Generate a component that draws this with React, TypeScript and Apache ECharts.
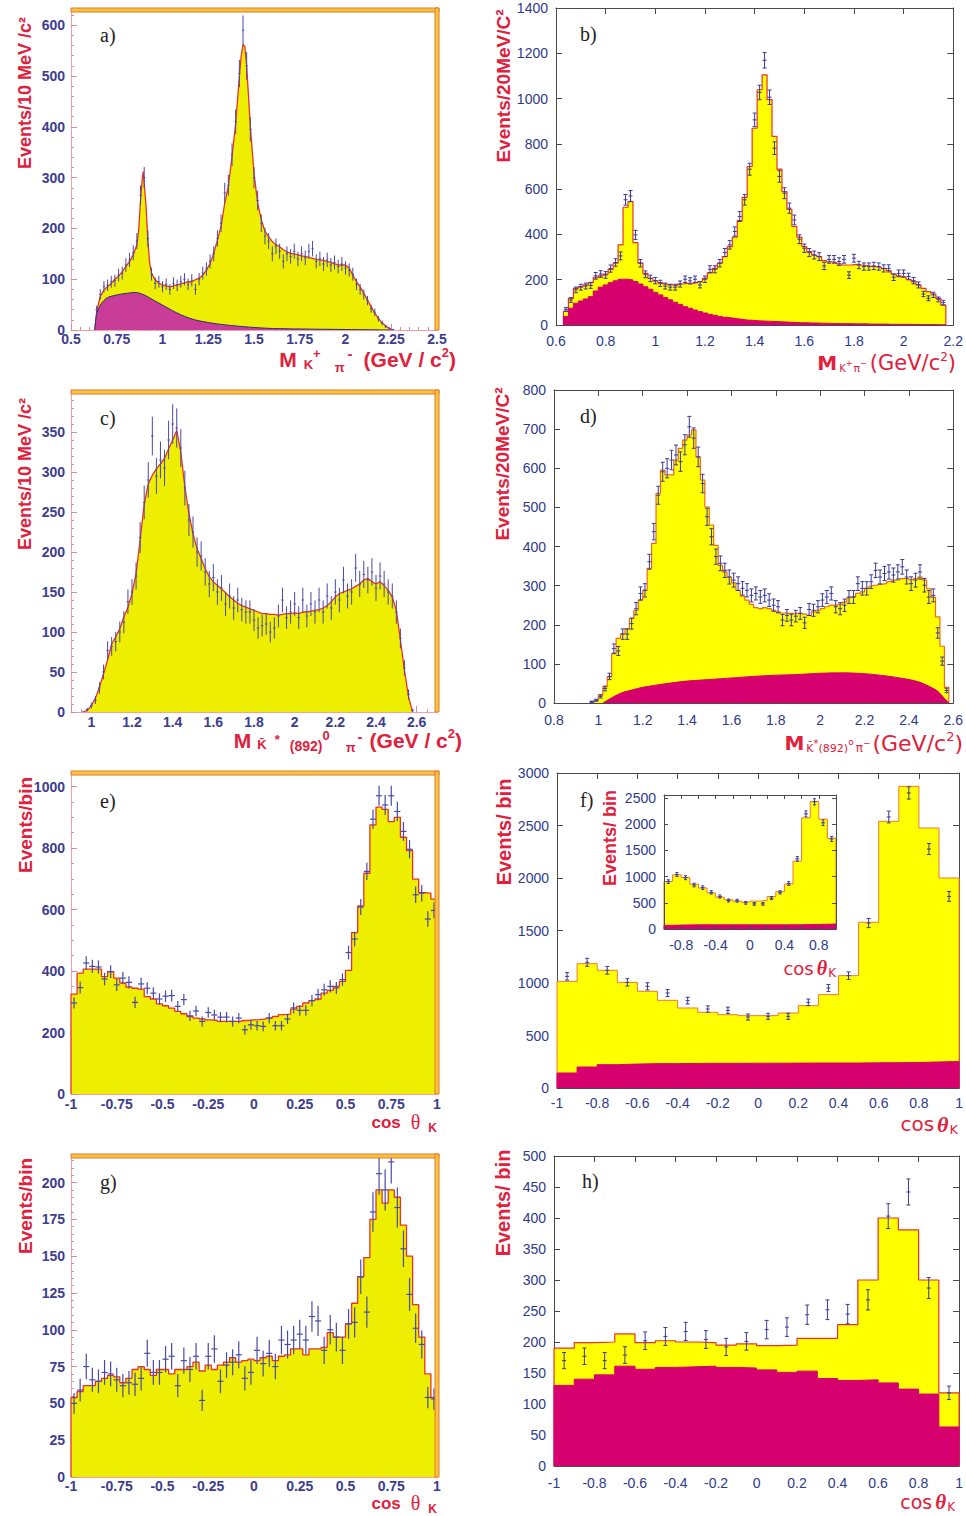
import React, { useEffect, useRef } from 'react';
import * as echarts from 'echarts';

// ================= DATA =================
// a) M(K+ pi-) : fit curve (GeV, events / 10 MeV)
const aFitMass = [0.63,0.64,0.66,0.68,0.70,0.72,0.74,0.76,0.78,0.80,0.82,0.84,0.86,0.87,0.88,0.89,0.895,0.90,0.91,0.92,0.93,0.94,0.96,0.98,1.00,1.02,1.04,1.06,1.08,1.10,1.12,1.14,1.16,1.18,1.20,1.22,1.24,1.26,1.28,1.30,1.32,1.34,1.36,1.38,1.40,1.42,1.43,1.44,1.45,1.46,1.48,1.50,1.52,1.54,1.56,1.58,1.60,1.62,1.64,1.66,1.68,1.70,1.72,1.74,1.76,1.78,1.80,1.82,1.84,1.86,1.88,1.90,1.92,1.94,1.96,1.98,2.00,2.02,2.04,2.06,2.08,2.10,2.12,2.14,2.16,2.18,2.20,2.22,2.24,2.26];
const aFitEvents = [0,36,66,79,85,92,100,106,115,125,135,148,168,197,256,300,312,290,243,177,131,112,99,92,89,87,85,87,89,91,93,95,95,99,102,108,118,131,151,177,204,250,283,342,407,499,539,562,558,519,401,309,250,217,194,184,174,168,164,158,154,151,150,148,146,145,143,141,139,138,137,135,133,130,128,128,128,122,108,95,85,72,59,46,33,23,14,8,3,0];
const aBkgMass = [0.63,0.64,0.66,0.68,0.70,0.75,0.80,0.85,0.90,0.95,1.00,1.05,1.10,1.15,1.20,1.30,1.40,1.50,1.60,1.75,2.00,2.25];
const aBkgEvents = [0,30,49,58,64,69,72,74,69,59,49,39,30,23,18,12,8,5,3,2,1,0];
const aDataStart = 0.64;
const aDataStep = 0.02;
const aData = [40,70,85,88,95,97,108,112,128,138,152,175,265,300,180,110,92,95,85,90,80,92,88,95,100,90,98,80,100,112,120,135,150,180,210,270,285,345,410,505,590,520,395,300,255,210,185,175,150,165,155,135,150,145,155,140,150,142,155,160,135,140,130,138,128,133,125,130,122,118,110,90,80,70,58,42,35,22,14,7,3,1];

// b) M(K+ pi-) : 20 MeV bins
const bBinStart = 0.63;
const bBinWidth = 0.02;
const bFit = [60,118,162,170,177,187,209,217,225,246,273,354,520,545,364,273,228,206,195,187,181,177,174,181,184,184,187,192,206,231,250,273,302,346,388,461,564,700,869,1039,1105,995,833,688,589,511,435,388,346,324,309,302,284,279,276,270,265,265,268,265,262,259,258,255,249,240,225,217,211,202,192,177,162,147,137,118,88];
const bBkg = [37,74,96,106,115,125,150,167,177,187,195,202,202,199,192,181,169,158,144,133,121,111,100,91,81,74,66,59,53,47,43,38,34,31,28,25,22,21,19,18,17,16,15,14,13,12,11,10,10,9,9,8,8,7,7,6,6,6,5,5,5,4,4,4,4,3,3,3,3,3,2,2,2,2,2,1,1];
const bData = [69,110,155,167,172,175,217,225,221,249,276,305,553,570,398,273,224,206,196,184,172,167,167,181,202,195,202,177,202,246,246,273,320,354,413,479,553,688,906,1027,1169,1006,781,656,582,516,464,379,339,320,309,302,261,290,290,280,290,220,295,265,258,258,261,258,250,250,211,228,228,214,196,177,137,118,133,113,99];

// c) M(Kbar*(892)0 pi-) : 10 MeV bins, sampled every 20 MeV
const cMassStart = 0.96;
const cMassStep = 0.02;
const cFit = [0,2,8,17,31,48,65,85,94,104,119,131,148,173,215,260,285,296,304,310,317,329,340,352,325,281,248,223,204,192,179,169,163,158,154,149,144,140,136,133,131,129,127,125,123,123,122,122,121,122,123,123,124,123,125,125,126,127,128,130,133,138,144,148,150,152,154,157,160,165,167,163,160,163,158,152,144,127,90,52,19,0];
const cData = [0,3,8,15,30,50,77,82,88,100,112,138,150,170,218,262,290,345,295,315,305,340,360,355,330,280,240,225,200,195,175,160,168,150,155,135,145,130,140,128,125,125,115,105,108,110,100,105,120,140,118,125,135,118,140,120,135,125,140,125,145,130,150,140,165,145,150,180,160,172,165,175,155,170,160,150,145,125,92,55,22,2];

// d) M(Kbar*(892)0 pi-) : 20 MeV bins
const dBinStart = 0.98;
const dBinWidth = 0.02;
const dFit = [7,20,41,67,126,165,177,190,216,237,263,288,344,408,536,595,583,583,621,651,672,685,698,629,570,501,455,403,352,335,322,307,288,273,263,252,244,241,244,241,237,233,230,229,229,229,229,227,224,233,237,241,246,250,250,252,258,269,271,280,284,293,299,301,304,305,310,314,315,318,318,315,318,322,314,292,270,220,145,40];
const dBkgMass = [1.02,1.05,1.10,1.15,1.20,1.30,1.40,1.50,1.60,1.70,1.80,1.90,2.00,2.10,2.20,2.30,2.40,2.45,2.50,2.53,2.56,2.58];
const dBkgEvents = [0,10,25,33,40,49,56,60,64,68,71,73,76,77,75,69,60,53,40,30,12,0];
const dDataStart = 0.97;
const dData = [3,7,17,37,68,139,133,176,176,203,241,280,288,361,438,531,591,600,621,634,617,660,706,677,629,561,476,425,374,357,339,322,314,305,293,288,275,280,271,275,263,250,246,212,224,212,222,229,205,239,237,246,263,271,280,246,241,250,271,271,305,293,293,310,339,322,331,335,327,335,348,322,305,314,335,301,271,275,179,107,32];

// e) cos theta_K, 60 bins
const eFit = [325,393,406,406,406,382,398,377,361,348,344,341,317,309,293,287,279,269,261,252,247,244,241,239,236,236,236,236,239,241,242,244,247,252,258,260,276,285,296,304,309,328,337,350,366,402,525,612,718,875,933,926,886,900,835,792,699,655,653,634];
const eData = [296,346,426,415,413,374,398,355,377,363,298,358,344,328,309,318,320,285,307,254,270,236,265,257,250,250,236,247,209,225,222,220,247,222,222,244,280,272,272,304,323,339,350,345,372,460,504,608,724,894,970,940,970,919,854,796,648,653,569,597];

// f) cos theta_K, 20 bins (main) and inset
const fFit = [1016,1184,1121,1006,921,835,762,721,698,689,689,714,784,889,1070,1578,2540,2873,2476,2000];
const fBkg = [143,200,222,228,232,232,234,235,235,236,236,237,238,238,238,240,241,243,248,252];
const fData = [1063,1197,1121,1006,968,905,832,752,740,676,683,683,816,952,1070,1571,2581,2810,2276,1825];
const fInsetFit = [908,1034,984,858,783,689,608,558,533,514,533,545,620,714,858,1297,2124,2437,2099,1736];
const fInsetBkg = [70,75,78,80,80,80,80,80,80,80,80,80,80,80,80,82,85,88,90,95];
const fInsetData = [905,1040,980,840,790,700,620,545,540,500,480,480,590,700,870,1340,2200,2430,2030,1720];

// g) cos theta_K, 60 bins
const gFit = [54,58,62,62,65,67,69,68,64,67,73,75,73,69,73,73,70,73,73,75,78,72,76,73,76,78,81,78,79,80,79,81,82,79,82,83,87,87,83,87,87,88,98,95,95,104,118,136,149,175,195,186,195,190,171,150,117,95,70,54];
const gData = [50,59,75,66,65,71,70,66,62,64,63,67,84,71,71,80,82,62,79,73,82,52,82,87,65,76,78,83,67,71,86,77,84,75,93,90,93,97,93,109,106,86,100,95,86,104,105,136,112,180,206,195,214,183,155,124,101,90,54,53];

// h) cos theta_K, 20 bins
const hFit = [190,199,200,213,199,202,200,199,195,197,194,195,206,206,228,300,400,381,300,118];
const hBkg = [130,140,147,161,156,159,160,161,159,158,155,151,153,141,138,139,134,124,116,63];
const hData = [170,177,170,179,202,209,217,204,192,201,220,224,244,252,245,268,403,442,287,118];

// axis ranges [min, max, interval]
const aXRange: [number, number, number] = [0.5, 2.5, 0.25];
const aYRange: [number, number, number] = [0, 630, 100];
const bXRange: [number, number, number] = [0.6, 2.2, 0.2];
const bYRange: [number, number, number] = [0, 1400, 200];
const cXRange: [number, number, number] = [0.9, 2.7, 0.1];
const cYRange: [number, number, number] = [0, 400, 50];
const dXRange: [number, number, number] = [0.8, 2.6, 0.2];
const dYRange: [number, number, number] = [0, 800, 100];
const eXRange: [number, number, number] = [-1, 1, 0.25];
const eYRange: [number, number, number] = [0, 1044, 200];
const fXRange: [number, number, number] = [-1, 1, 0.2];
const fYRange: [number, number, number] = [0, 3000, 500];
const fInsetYRange: [number, number, number] = [0, 2560, 500];
const gXRange: [number, number, number] = [-1, 1, 0.25];
const gYRange: [number, number, number] = [0, 218, 25];
const hXRange: [number, number, number] = [-1, 1, 0.2];
const hYRange: [number, number, number] = [0, 500, 50];

// ================= STYLE =================
const FONT_SANS = '"Liberation Sans", Arial, Helvetica, sans-serif';
const FONT_WIDE = '"DejaVu Sans", Verdana, sans-serif';
const FONT_SERIF = '"Liberation Serif", "Times New Roman", serif';
const RED = '#e0203c';
const NAVY = '#3d3d8f';
const BLUE_PAW = '#2e3a8c';
const YELLOW_ROOT = '#eeee00';
const YELLOW_PAW = '#ffff00';
const MAG_ROOT = '#c93d98';
const MAG_PAW = '#d6006f';
const LINE_RED = '#e8322a';
const ERR_ROOT = '#4a4aa6';
const ERR_PAW = '#3a3a98';

type Range = [number, number, number];
type Piece = { t: string; s: number; b?: boolean; i?: boolean; f?: string; dy?: number; g?: number };

const fmtNum = (v: number) => String(+v.toFixed(2));

function buildOption() {
  const ctx = document.createElement('canvas').getContext('2d') as CanvasRenderingContext2D;
  const grid: any[] = [];
  const xAxis: any[] = [];
  const yAxis: any[] = [];
  const series: any[] = [];
  const elements: any[] = [];

  const addPanel = (
    kind: 'root' | 'paw',
    rect: number[],
    xr: Range,
    yr: Range,
    o: { xFmt?: (v: number) => string; fs?: number; xMinor?: number; yMinor?: number; xMargin?: number; yMargin?: number; showMaxY?: boolean; tickLen?: number; z?: number } = {}
  ) => {
    const [L, T, W, H] = rect;
    const gi = grid.length;
    grid.push({ left: L, top: T, width: W, height: H });
    const root = kind === 'root';
    const fs = o.fs ?? 14;
    const z = o.z ?? 0;
    const label: any = root
      ? { color: NAVY, fontWeight: 'bold', fontSize: fs, fontFamily: FONT_SANS }
      : { color: BLUE_PAW, fontSize: fs, fontFamily: FONT_SANS };
    const axisCol = root ? '#f0a0a8' : '#4a4a4a';
    const tickCol = root ? '#d88c9c' : '#4a4a4a';
    const tl = o.tickLen ?? 6;
    const xi = xAxis.length;
    xAxis.push({
      type: 'value', gridIndex: gi, position: 'bottom', min: xr[0], max: xr[1], interval: xr[2], z,
      axisLine: { show: true, onZero: false, lineStyle: { color: axisCol, width: 1 } },
      axisTick: { show: true, inside: true, length: tl, lineStyle: { color: tickCol, width: 1 } },
      minorTick: { show: !!o.xMinor, splitNumber: o.xMinor || 5, length: 3, lineStyle: { color: tickCol } },
      splitLine: { show: false },
      axisLabel: { ...label, margin: o.xMargin ?? (root ? 4 : 9), formatter: o.xFmt ?? fmtNum, showMaxLabel: true, showMinLabel: true },
    });
    const yi = yAxis.length;
    yAxis.push({
      type: 'value', gridIndex: gi, position: 'left', min: yr[0], max: yr[1], interval: yr[2], z,
      axisLine: { show: true, onZero: false, lineStyle: { color: axisCol, width: 1 } },
      axisTick: { show: true, inside: true, length: tl, lineStyle: { color: tickCol, width: 1 } },
      minorTick: { show: !!o.yMinor, splitNumber: o.yMinor || 5, length: 3, lineStyle: { color: tickCol } },
      splitLine: { show: false },
      axisLabel: { ...label, margin: o.yMargin ?? 6, formatter: fmtNum, showMaxLabel: o.showMaxY ?? true, showMinLabel: true },
    });
    if (!root) {
      xAxis.push({
        type: 'value', gridIndex: gi, position: 'top', min: xr[0], max: xr[1], interval: xr[2], z,
        axisLine: { show: true, onZero: false, lineStyle: { color: axisCol, width: 1 } },
        axisTick: { show: true, inside: true, length: tl, lineStyle: { color: tickCol, width: 1 } },
        axisLabel: { show: false }, splitLine: { show: false },
      });
      yAxis.push({
        type: 'value', gridIndex: gi, position: 'right', min: yr[0], max: yr[1], interval: yr[2], z,
        axisLine: { show: true, onZero: false, lineStyle: { color: axisCol, width: 1 } },
        axisTick: { show: true, inside: true, length: tl, lineStyle: { color: tickCol, width: 1 } },
        axisLabel: { show: false }, splitLine: { show: false },
      });
    } else {
      const bar = { fill: '#f8c53e', stroke: '#e8762e', lineWidth: 1 };
      elements.push({ type: 'rect', z: 10, silent: true, shape: { x: L, y: T - 2, width: W + 2, height: 4 }, style: bar });
      elements.push({ type: 'rect', z: 10, silent: true, shape: { x: L + W - 2, y: T - 2, width: 4, height: H + 2 }, style: bar });
    }
    return { xi, yi };
  };

  const stepData = (start: number, width: number, vals: number[]) => {
    const pts: number[][] = [[start, 0]];
    vals.forEach((v, i) => pts.push([start + (i + 1) * width, v]));
    pts.push([start + vals.length * width, 0]);
    return pts;
  };
  const pairData = (xs: number[], ys: number[]) => xs.map((x, i) => [x, ys[i]]);

  const area = (ax: { xi: number; yi: number }, data: number[][], fill: string, stroke: string, lw: number, step: boolean, z: number, smooth = 0) => {
    series.push({
      type: 'line', xAxisIndex: ax.xi, yAxisIndex: ax.yi, data, step: step ? 'start' : false,
      smooth, symbol: 'none', showSymbol: false, silent: true, z, clip: true,
      lineStyle: { color: stroke, width: lw }, areaStyle: { color: fill, opacity: 1 },
    });
  };

  const errs = (ax: { xi: number; yi: number }, pts: number[][], color: string, capPx: number, z: number, lw = 1.1) => {
    series.push({
      type: 'custom', xAxisIndex: ax.xi, yAxisIndex: ax.yi, data: pts, z, silent: true, clip: true,
      renderItem: (_p: any, api: any) => {
        const x = api.value(0), v = api.value(1), e = api.value(2), hw = api.value(3);
        const pT = api.coord([x, v + e]);
        const pB = api.coord([x, Math.max(0, v - e)]);
        const pC = api.coord([x, v]);
        const style = { stroke: color, lineWidth: lw };
        const ch: any[] = [{ type: 'line', shape: { x1: pT[0], y1: pT[1], x2: pB[0], y2: pB[1] }, style }];
        if (hw > 0) {
          const pL = api.coord([x - hw, v]);
          const pR = api.coord([x + hw, v]);
          ch.push({ type: 'line', shape: { x1: pL[0], y1: pC[1], x2: pR[0], y2: pC[1] }, style });
        } else {
          ch.push({ type: 'line', shape: { x1: pC[0] - 2, y1: pC[1], x2: pC[0] + 2, y2: pC[1] }, style });
        }
        if (capPx > 0) {
          ch.push({ type: 'line', shape: { x1: pT[0] - capPx, y1: pT[1], x2: pT[0] + capPx, y2: pT[1] }, style });
          ch.push({ type: 'line', shape: { x1: pB[0] - capPx, y1: pB[1], x2: pB[0] + capPx, y2: pB[1] }, style });
        }
        return { type: 'group', children: ch };
      },
    });
  };

  const fontOf = (p: Piece, fam: string) => `${p.i ? 'italic ' : ''}${p.b ? 'bold ' : ''}${p.s}px ${p.f ?? fam}`;
  const pieceTitle = (pieces: Piece[], right: number, cy: number, color: string, fam: string) => {
    const fonts = pieces.map((p) => fontOf(p, fam));
    const widths = pieces.map((p, k) => { ctx.font = fonts[k]; return ctx.measureText(p.t).width; });
    const total = pieces.reduce((a, p, k) => a + widths[k] + (p.g ?? 0), 0);
    let x = right - total;
    pieces.forEach((p, k) => {
      x += p.g ?? 0;
      elements.push({
        type: 'text', x, y: cy + (p.dy ?? 0), silent: true, z: 20,
        style: { text: p.t, font: fonts[k], fill: color, align: 'left', verticalAlign: 'middle', textAlign: 'left', textVerticalAlign: 'middle' },
      });
      x += widths[k];
    });
  };
  const yTitle = (text: string, x: number, cy: number, font: string) => {
    elements.push({
      type: 'text', x, y: cy, rotation: Math.PI / 2, silent: true, z: 30,
      style: { text, font, fill: RED, align: 'center', verticalAlign: 'middle', textAlign: 'center', textVerticalAlign: 'middle' },
    });
  };
  const letter = (text: string, x: number, cy: number) => {
    elements.push({
      type: 'text', x, y: cy, silent: true, z: 20,
      style: { text, font: `20px ${FONT_SERIF}`, fill: '#222', align: 'left', verticalAlign: 'middle', textAlign: 'left', textVerticalAlign: 'middle' },
    });
  };

  // ---------- a ----------
  const pa = addPanel('root', [71, 10, 366, 320], aXRange, aYRange, { xMinor: 5, yMinor: 5, showMaxY: false, xMargin: 2 });
  area(pa, pairData(aFitMass, aFitEvents), YELLOW_ROOT, LINE_RED, 1.3, false, 2);
  area(pa, pairData(aBkgMass, aBkgEvents), MAG_ROOT, '#2d2d7a', 1, false, 3, 0.3);
  errs(pa, aData.map((v, i) => [aDataStart + i * aDataStep, v, 1.2 * Math.sqrt(v), 0.006]), ERR_ROOT, 0, 5, 1);

  // ---------- b ----------
  const pb = addPanel('paw', [556, 8, 399, 317], bXRange, bYRange, { xMargin: 9, yMargin: 8 });
  area(pb, stepData(bBinStart, bBinWidth, bFit), YELLOW_PAW, LINE_RED, 1.2, true, 2);
  area(pb, stepData(bBinStart, bBinWidth, bBkg), MAG_PAW, MAG_PAW, 1, true, 3);
  errs(pb, bData.map((v, i) => [bBinStart + (i + 0.5) * bBinWidth, v, Math.sqrt(v), 0]), ERR_PAW, 2, 5, 1);

  // ---------- c ----------
  const cFmt = (v: number) => { const k = Math.round(v * 10); return k % 2 === 0 ? fmtNum(v) : ''; };
  const pc = addPanel('root', [71, 392, 366, 320], cXRange, cYRange, { xFmt: cFmt, xMinor: 2, yMinor: 5, showMaxY: false, xMargin: 3 });
  area(pc, cFit.map((v, i) => [cMassStart + i * cMassStep, v]), YELLOW_ROOT, LINE_RED, 1.3, false, 2);
  errs(pc, cData.map((v, i) => [cMassStart + i * cMassStep, v, 1.3 * Math.sqrt(v), 0.006]), ERR_ROOT, 0, 5, 1);

  // ---------- d ----------
  const pd = addPanel('paw', [554, 390, 402, 313], dXRange, dYRange, { xMargin: 10, yMargin: 8 });
  area(pd, stepData(dBinStart, dBinWidth, dFit), YELLOW_PAW, '#f06a1a', 1.2, true, 2);
  area(pd, pairData(dBkgMass, dBkgEvents), MAG_PAW, MAG_PAW, 1, false, 3, 0.3);
  errs(pd, dData.map((v, i) => [dDataStart + i * dBinWidth, v, Math.sqrt(v), 0]), ERR_PAW, 2, 5, 1);

  // ---------- e ----------
  const pe = addPanel('root', [71, 773, 366, 321], eXRange, eYRange, { xMinor: 5, yMinor: 4, showMaxY: false, xMargin: 3 });
  area(pe, stepData(-1, 2 / eFit.length, eFit), YELLOW_ROOT, LINE_RED, 1.3, true, 2);
  errs(pe, eData.map((v, i) => [-1 + (i + 0.5) / 30, v, 1.05 * Math.sqrt(v), 1 / 60]), ERR_ROOT, 0, 5, 1.2);

  // ---------- f ----------
  const pf = addPanel('paw', [557, 773, 405, 315], fXRange, fYRange, { xMargin: 8, yMargin: 8 });
  area(pf, stepData(-1, 0.1, fFit), YELLOW_PAW, '#f07a30', 1, true, 2);
  area(pf, stepData(-1, 0.1, fBkg), MAG_PAW, MAG_PAW, 1, true, 3);
  errs(pf, fData.map((v, i) => [-0.95 + i * 0.1, v, 1.1 * Math.sqrt(v), 0]), ERR_PAW, 2, 5, 1);

  // inset (white panel above the main f plot, below the inset axes)
  elements.push({ type: 'rect', z: 8, silent: true, shape: { x: 664, y: 795, width: 172, height: 134 }, style: { fill: '#ffffff' } });
  const insetFmt = (v: number) => { const k = Math.round(v * 10); return k % 4 === 0 && Math.abs(k) < 10 ? fmtNum(v) : ''; };
  const pi = addPanel('paw', [664, 795, 172, 134], fXRange, fInsetYRange, { xFmt: insetFmt, fs: 14, xMargin: 9, yMargin: 8, showMaxY: false, tickLen: 4, z: 20 });
  area(pi, stepData(-1, 0.1, fInsetFit), YELLOW_PAW, '#f07a30', 1, true, 12);
  area(pi, stepData(-1, 0.1, fInsetBkg), MAG_PAW, MAG_PAW, 1, true, 13);
  errs(pi, fInsetData.map((v, i) => [-0.95 + i * 0.1, v, 1.2 * Math.sqrt(v), 0]), ERR_PAW, 1.5, 15, 1);

  // ---------- g ----------
  const pg = addPanel('root', [71, 1156, 366, 321], gXRange, gYRange, { xMinor: 5, yMinor: 5, showMaxY: false, xMargin: 2 });
  area(pg, stepData(-1, 2 / gFit.length, gFit), YELLOW_ROOT, LINE_RED, 1.3, true, 2);
  errs(pg, gData.map((v, i) => [-1 + (i + 0.5) / 30, v, Math.sqrt(v), 1 / 60]), ERR_ROOT, 0, 5, 1.2);

  // ---------- h ----------
  const ph = addPanel('paw', [554, 1156, 408, 310], hXRange, hYRange, { xMargin: 10, yMargin: 8 });
  area(ph, stepData(-1, 0.1, hFit), YELLOW_PAW, LINE_RED, 1.2, true, 2);
  area(ph, stepData(-1, 0.1, hBkg), MAG_PAW, MAG_PAW, 1, true, 3);
  errs(ph, hData.map((v, i) => [-0.95 + i * 0.1, v, Math.sqrt(v), 0]), ERR_PAW, 2, 5, 1);

  // ---------- titles ----------
  const ySans = (s: number) => `bold ${s}px ${FONT_SANS}`;
  yTitle('Events/10 MeV /c²', 25, 93, ySans(18));
  yTitle('Events/20MeV/C²', 503, 86, ySans(19));
  yTitle('Events/10 MeV /c²', 25, 474, ySans(18));
  yTitle('Events/20MeV/C²', 502, 464, ySans(19));
  yTitle('Events/bin', 25, 825, ySans(19));
  yTitle('Events/ bin', 504, 832, ySans(20));
  yTitle('Events/ bin', 610, 838, ySans(18));
  yTitle('Events/bin', 25, 1206, ySans(19));
  yTitle('Events/ bin', 503, 1203, ySans(20));

  // a) x title
  pieceTitle([
    { t: 'M', s: 21, b: true },
    { t: 'K', s: 13, b: true, dy: 5, g: 7 },
    { t: '+', s: 13, b: true, dy: -6 },
    { t: 'π', s: 13, b: true, dy: 8, g: 14 },
    { t: '-', s: 15, b: true, dy: -6, g: 3 },
    { t: '(GeV / c', s: 21, b: true, g: 11 },
    { t: '2', s: 13, b: true, dy: -7 },
    { t: ')', s: 21, b: true },
  ], 456, 359, RED, FONT_SANS);
  // b) x title
  pieceTitle([
    { t: 'M', s: 20, b: true },
    { t: 'K', s: 10, dy: 5, g: 2 },
    { t: '+', s: 8, dy: 0 },
    { t: 'π', s: 11, dy: 5, g: 1 },
    { t: '−', s: 8, dy: 0 },
    { t: '(GeV/c', s: 21, g: 3 },
    { t: '2', s: 12, dy: -6 },
    { t: ')', s: 21 },
  ], 956, 363, RED, FONT_WIDE);
  // c) x title
  pieceTitle([
    { t: 'M', s: 21, b: true },
    { t: 'K\u0304', s: 13, b: true, dy: 4, g: 6 },
    { t: '*', s: 13, b: true, dy: -1, g: 8 },
    { t: '(892)', s: 14, b: true, dy: 6, g: 10 },
    { t: '0', s: 13, b: true, dy: -5 },
    { t: 'π', s: 13, b: true, dy: 7, g: 16 },
    { t: '-', s: 15, b: true, dy: -4, g: 2 },
    { t: '(GeV / c', s: 21, b: true, g: 7 },
    { t: '2', s: 13, b: true, dy: -7 },
    { t: ')', s: 21, b: true },
  ], 462, 740, RED, FONT_SANS);
  // d) x title
  pieceTitle([
    { t: 'M', s: 20, b: true },
    { t: 'K\u0304', s: 11, dy: 5, g: 2 },
    { t: '*', s: 10, dy: 0 },
    { t: '(892)', s: 11, dy: 5 },
    { t: 'o', s: 9, dy: -1 },
    { t: 'π', s: 12, dy: 5, g: 2 },
    { t: '−', s: 9, dy: 0 },
    { t: '(GeV/c', s: 22, g: 2 },
    { t: '2', s: 13, dy: -7 },
    { t: ')', s: 22 },
  ], 963, 743, RED, FONT_WIDE);
  // e) & g) cos theta K
  const rootCos: Piece[] = [
    { t: 'cos', s: 17, b: true },
    { t: 'θ', s: 20, f: FONT_SERIF, g: 10 },
    { t: 'K', s: 12, b: true, dy: 6, g: 8 },
  ];
  pieceTitle(rootCos, 437, 1122, RED, FONT_SANS);
  pieceTitle(rootCos, 437, 1503, RED, FONT_SANS);
  // f) & h) cos theta K
  const pawCos = (s: number): Piece[] => [
    { t: 'cos', s },
    { t: 'θ', s: s + 2, i: true, b: true, f: FONT_SERIF, g: 3 },
    { t: 'K', s: Math.round(s * 0.65), dy: 5, g: 1 },
  ];
  pieceTitle(pawCos(20), 958, 1124, RED, FONT_WIDE);
  pieceTitle(pawCos(19), 955, 1502, RED, FONT_WIDE);
  pieceTitle(pawCos(18), 836, 968, RED, FONT_WIDE);

  letter('a)', 100, 35);
  letter('b)', 580, 34);
  letter('c)', 100, 418);
  letter('d)', 580, 416);
  letter('e)', 100, 801);
  letter('f)', 580, 800);
  letter('g)', 100, 1182);
  letter('h)', 582, 1181);

  return {
    animation: false,
    backgroundColor: '#ffffff',
    grid, xAxis, yAxis, series,
    graphic: { elements },
  };
}

export default function App() {
  const ref = useRef<HTMLDivElement>(null);
  useEffect(() => {
    if (!ref.current) return;
    const chart = echarts.init(ref.current, undefined, { renderer: 'svg' });
    chart.setOption(buildOption() as any);
    return () => chart.dispose();
  }, []);
  return (
    <div
      ref={ref}
      style={{ position: 'absolute', left: 0, top: 0, width: 966, height: 1516, background: '#fff' }}
    />
  );
}
